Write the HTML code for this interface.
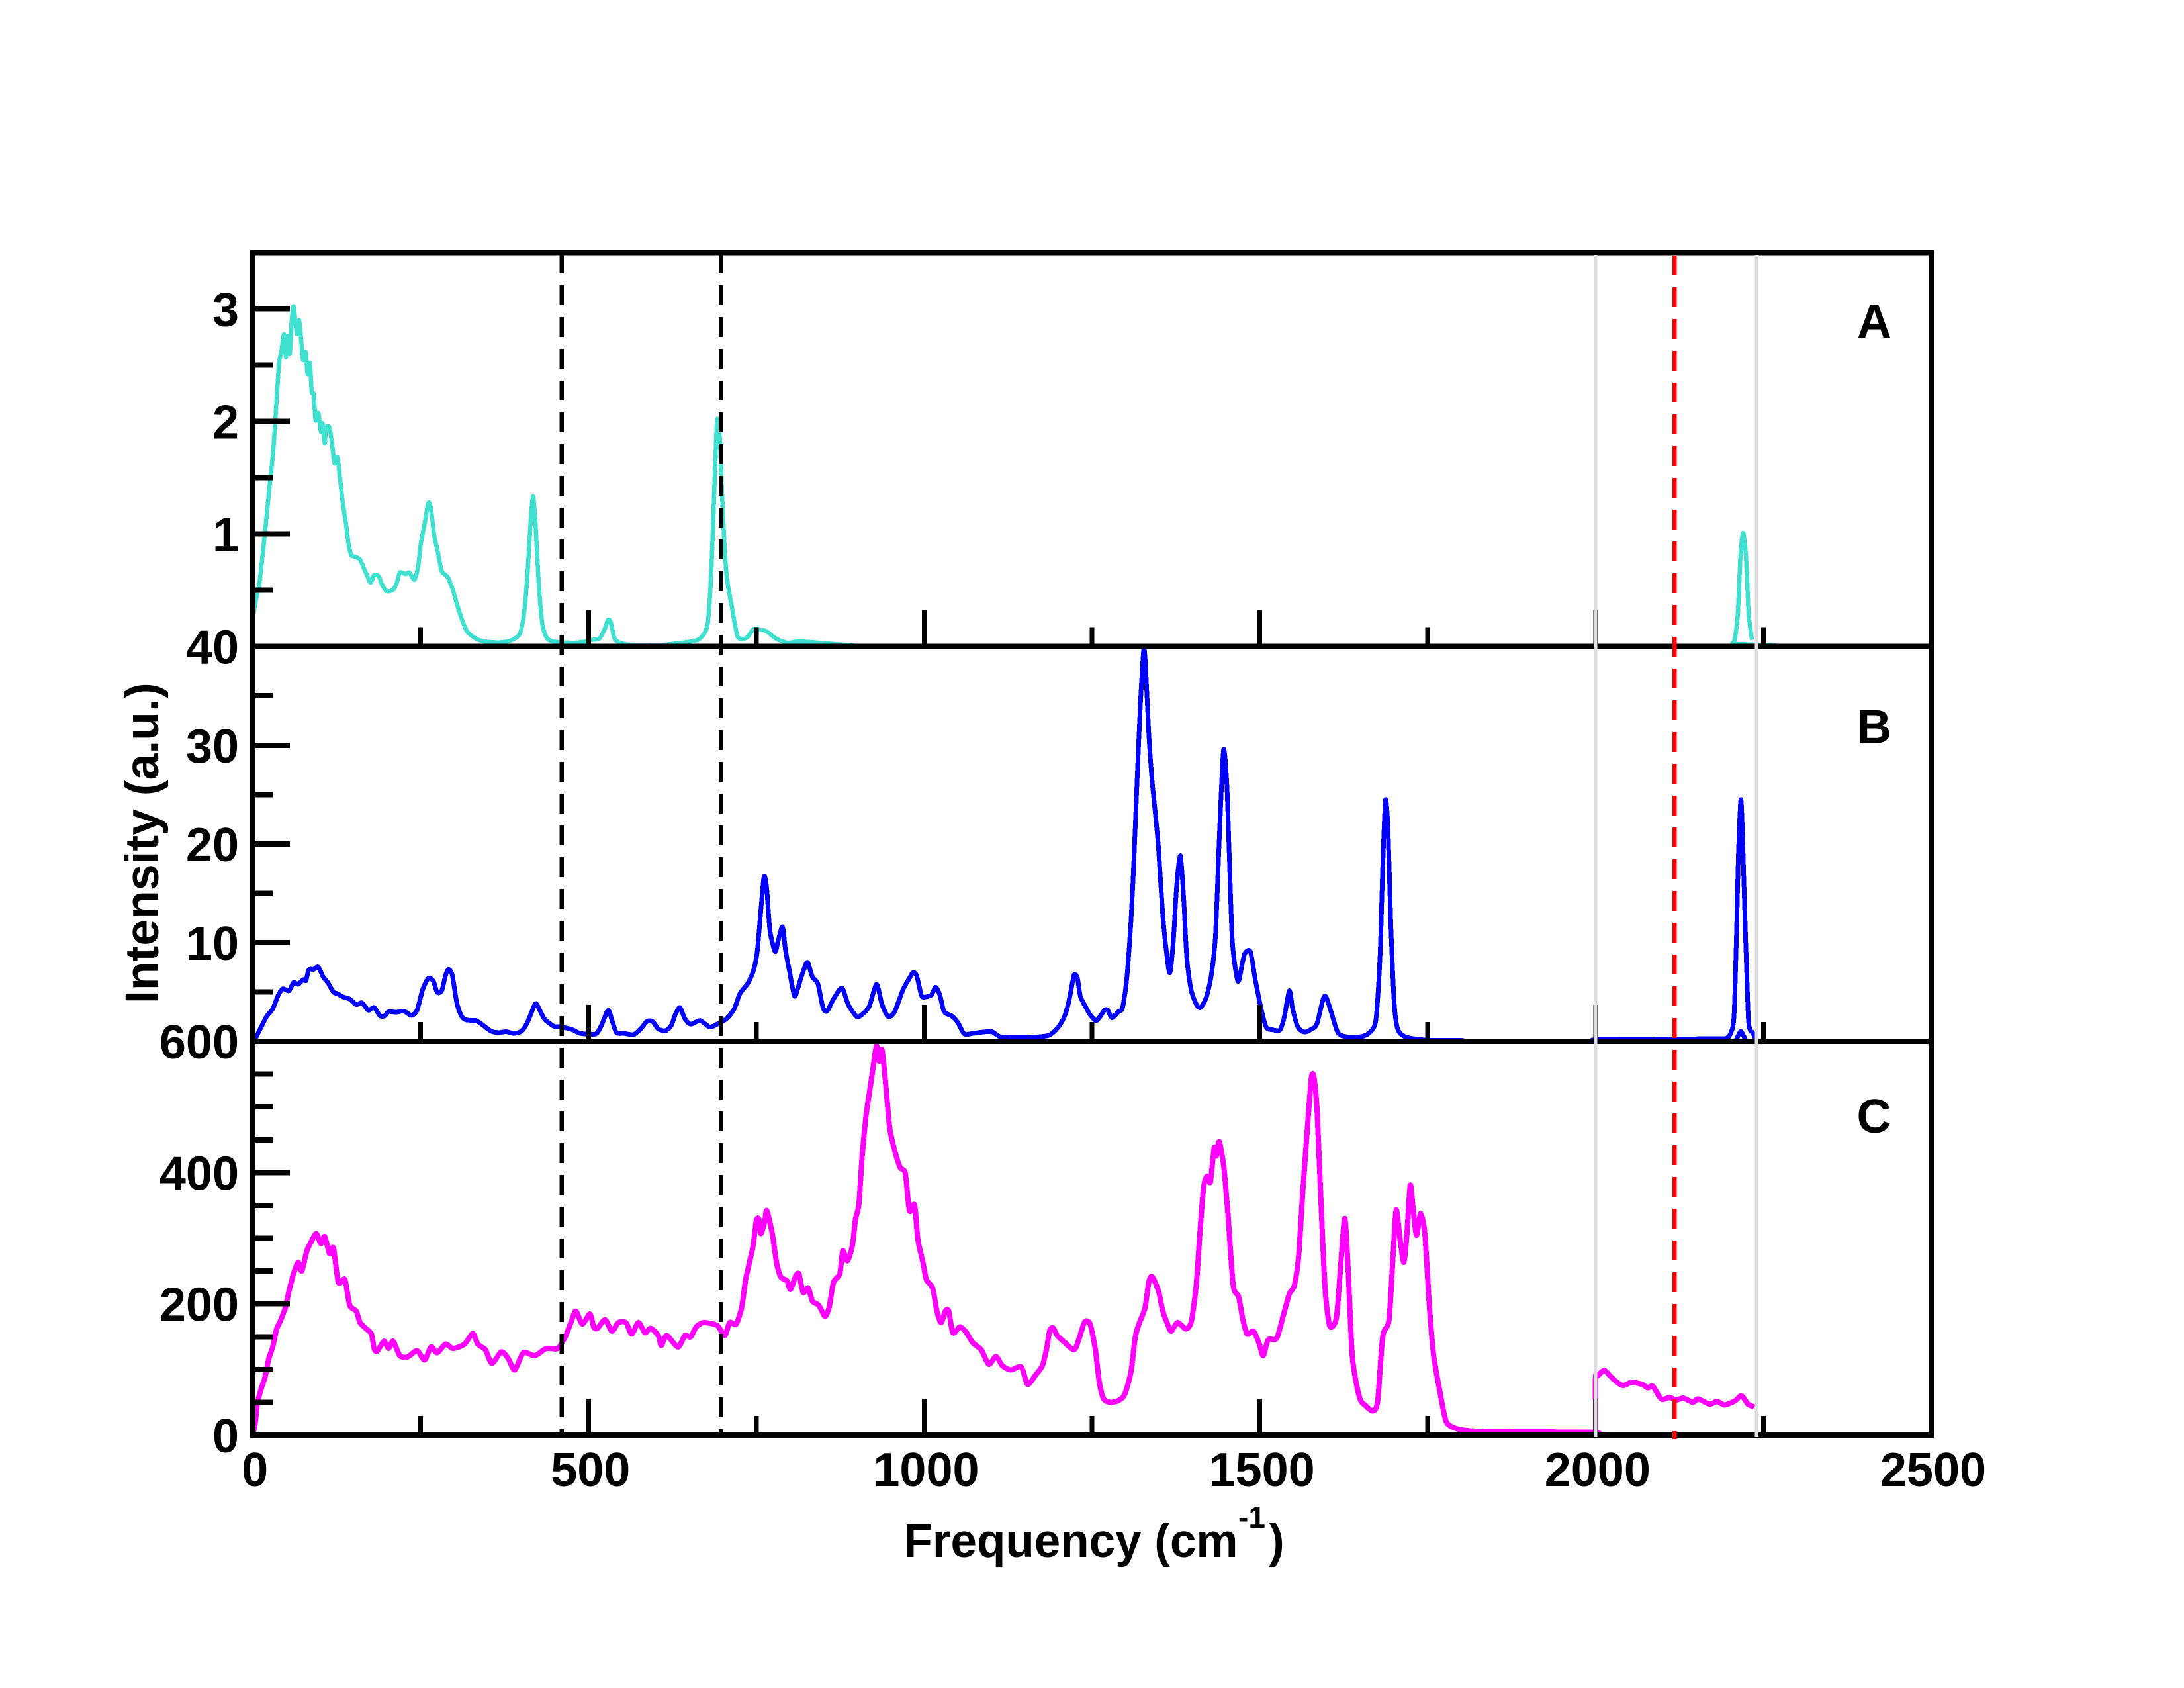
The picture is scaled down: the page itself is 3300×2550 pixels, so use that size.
<!DOCTYPE html>
<html lang="en">
<head>
<meta charset="utf-8">
<title>Intensity vs Frequency</title>
<style>
html,body{margin:0;padding:0;background:#fff;width:3300px;height:2550px;overflow:hidden}
svg{display:block}
text{font-family:"Liberation Sans",sans-serif;font-weight:bold;fill:#000}
</style>
</head>
<body>
<svg id="chart" xmlns="http://www.w3.org/2000/svg" width="3300" height="2550" viewBox="0 0 3300 2550">
<g id="curves" fill="none" stroke-linejoin="round" shape-rendering="crispEdges"></g>
<g id="axes" stroke="#000" fill="none" shape-rendering="crispEdges"></g>
<g id="labels" font-size="72"></g>
<g id="refs" fill="none" shape-rendering="crispEdges"></g>
<text x="2806" y="510" font-size="72">A</text>
<text x="2806" y="1122.7" font-size="72">B</text>
<text x="2805.5" y="1711" font-size="72">C</text>
<text x="1365.5" y="2352" font-size="71">Frequency (cm<tspan x="1871" y="2308" font-size="46">-1</tspan><tspan x="1917" y="2352">)</tspan></text>
<text transform="translate(239,1516) rotate(-90)" font-size="71.5">Intensity (a.u.)</text>
</svg>
<script>
const freqA = [0,4,9.6,15.3,21,26.6,30.6,35,39,42.5,46.4,49.2,52,55,57.7,60.6,63.4,66.2,69,71.9,74.7,78.7,81.5,84.9,87.7,90.6,93.4,97.4,101.3,103.6,107,109.2,114.3,118.3,121.7,126.2,129.6,134.1,138.7,142.6,146.6,152.3,159.6,165.3,171,175.5,181.1,187.9,191.9,199.2,208.8,214.5,219,227.5,233.2,240.5,246.2,250.1,255.8,261.5,265.4,270,275.6,281.3,289.8,297.1,303.9,312.4,319.8,332.2,343.5,366.2,383.1,397.3,403.5,408.6,413.1,417.1,421,425.6,431.2,438.6,451,479.4,496.3,504.8,516.1,523.5,529.1,533.1,538.8,547.3,564.2,609.5,649.1,666.1,677.4,683,687.6,691.6,695.5,700,705.7,714.2,721.5,728.3,736.8,745.3,753.8,765.1,779.3,796.3,814,840,870,895,900,2194,2203.6,2207.5,2212,2216,2219.8,2224,2228,2233];
const intensityA = [0.25,0.4,0.556,0.862,1.19,1.526,1.755,2.16,2.52,2.62,2.775,2.57,2.763,2.6,2.88,3.025,2.88,2.775,2.9,2.725,2.546,2.62,2.42,2.52,2.265,2.24,2.01,2.075,1.91,1.985,1.806,1.945,1.945,1.78,1.627,1.68,1.5,1.27,1.09,0.913,0.811,0.798,0.773,0.696,0.62,0.569,0.638,0.62,0.556,0.492,0.505,0.569,0.658,0.645,0.658,0.594,0.709,0.913,1.09,1.275,1.22,0.99,0.837,0.671,0.62,0.518,0.378,0.225,0.128,0.071,0.046,0.036,0.051,0.11,0.275,0.607,1.041,1.334,1.09,0.582,0.2,0.071,0.041,0.033,0.046,0.059,0.071,0.148,0.237,0.212,0.071,0.033,0.015,0.015,0.041,0.071,0.2,0.684,1.449,2.01,1.857,1.194,0.633,0.327,0.097,0.067,0.084,0.153,0.153,0.135,0.071,0.033,0.045,0.035,0.02,0.01,0,0,0.026,0.07,0.3,0.81,1.01,0.81,0.3,0.06,0.02];

const freqB = [0,4,12.5,21,29.5,38,44.7,53.8,60.6,67.4,74.7,79.2,83.2,90.6,97.4,104.7,111.5,120,125.7,134.1,144.3,154,162.4,172,180.6,189.6,196.4,202,213.4,224.7,236,244.5,253,261.5,268.8,274.5,281.3,287,291.5,297.1,303.9,310.7,318,332.2,343.5,354.8,366.2,377.5,388.8,400.1,408.6,419.9,423.9,434.1,448.2,459.5,476.5,487.8,510.5,519,529.1,534.8,541.6,552.9,567,578.4,586.9,595.4,603.8,615.2,623.6,629.3,636.1,643.5,652,666.1,680.2,691.6,705.7,717,725.5,736.8,745.3,751,755.5,761.2,765.1,769.7,773.6,778.1,782.1,788.9,793.4,798.9,805.1,808.3,817.7,825.9,833.4,841.6,849.2,855.4,864.9,877.4,886.9,899.5,907.6,918.3,929,937.2,946.6,956,968.6,978,983.1,988.7,995.6,1000,1010.7,1017,1023.3,1029.6,1040.9,1050.3,1059.8,1072.3,1084.9,1100.6,1113.2,1135.2,1160.4,1185.5,1198,1207.5,1213.8,1218.2,1223.2,1228.3,1232.7,1242.1,1248.4,1256.6,1264.1,1269.1,1273.5,1279.8,1289.2,1295.5,1301.8,1308.1,1312.5,1317.5,1321.9,1327,1330,1334.5,1339.5,1344,1349,1355.2,1361.6,1366,1371,1376,1381.7,1386.7,1391,1397.4,1405.6,1411.8,1420,1427.6,1433.8,1440,1445.8,1450.8,1454.6,1459,1467.2,1473.5,1477.9,1486,1493.6,1501,1509.3,1518.7,1530,1536.3,1543.9,1548.9,1556.5,1565.9,1575.3,1584.7,1594.2,1598.6,1606.7,1616.2,1628.7,1650.7,1663.3,1672.8,1679,1683.4,1687.2,1691,1695,1700,1705,1715,1735,1760,1800,1820,1999,2002,2184,2195,2201.7,2206.3,2210.3,2212.6,2216.6,2220,2223,2227.4,2230,2234,2238];
const intensityB = [0,0.32,1.45,2.57,3.28,4.69,5.31,5.12,5.96,5.77,6.25,6.16,7.23,7.29,7.52,6.53,5.96,4.98,4.83,4.5,4.27,3.71,3.9,3.14,3.42,2.57,2.57,3,2.94,3.06,2.63,3.14,5.26,6.39,6.1,4.98,5.12,6.67,7.29,6.67,3.85,2.57,2.15,2.1,1.59,1.02,0.88,0.97,0.8,1.02,1.87,3.71,3.62,2.29,1.53,1.45,1.16,0.8,0.74,1.59,3.14,2.15,0.88,0.8,0.68,1.3,2.01,2.01,1.25,1.08,1.65,2.72,3.42,2.29,1.73,2.1,1.45,1.73,2.29,3.28,4.83,5.82,7.09,8.93,12.3,16.6,15.7,11.5,10.06,9.07,10.06,11.6,9.21,7.23,4.98,4.64,6.67,8,6.53,5.82,3.42,3.06,4.27,5.4,3.71,2.49,2.72,3.56,5.77,3.71,2.49,3,5.26,6.39,6.95,6.67,4.69,4.47,4.69,5.48,4.69,3,2.57,1.87,0.74,0.8,0.91,0.97,0.46,0.37,0.4,0.6,1.3,2.29,3.56,4.98,6.72,6.39,4.55,3.28,2.57,2.1,2.72,3.2,3.14,2.38,3,3.42,6.39,12.3,18.5,27,34,39.7,37.7,31.2,26.4,23.3,19.6,12.9,8.6,6.95,10.06,15.7,18.8,14.3,8.6,5.26,3.71,3.42,4.41,6.67,10.6,21.35,29.5,26.1,18.5,10.06,6.1,7.8,8.93,9.07,6.1,3.56,1.45,1.16,1.16,2.43,5.12,3.28,1.45,0.94,1.16,1.73,4.27,4.5,2.86,0.88,0.46,0.46,0.88,2.15,8.6,18.5,24.45,21.35,12,4,1.3,0.5,0.2,0.1,0.1,0,0,0.16,0.27,0.3,0.87,2.6,11.6,18.5,24.5,18.5,11.6,2.6,1.2,0.87,0.3];
const freqBSmall = [2205,2209,2212,2216.5,2221,2224,2228];
const intensityBSmall = [0,0.1,0.5,1,0.5,0.1,0];

const freqC = [0,4,6.8,12.5,18.1,23.8,29.5,35.1,40.8,48.1,53.8,60.6,67.4,73,80.4,87.7,94.5,101.3,107,114.3,120,127.4,137,144.3,154,159.6,168.1,176.6,180.6,185.1,195.3,202,208.8,219,230.3,244.5,255.8,265.4,274.5,287,298.2,315.2,327.7,335,346.4,356,370.1,380.3,390,403,420,437,453.9,465.2,473.7,481,490.7,502,507.6,513.3,524.6,534.8,544.4,555.7,564.2,574.4,584,592.5,603.8,608.4,616.3,633.3,643.5,652,660.4,671.8,691.6,702.9,710.2,719.9,728.3,734,739.7,745.3,749.9,753.8,756.7,762.3,765.5,773.7,780,786.3,795.7,800.7,808.3,813.3,819.6,827.2,833.4,842.9,852.3,858.6,864.9,874.3,878.7,885.6,893.2,897.6,902.6,907.6,913.3,918.3,923.3,929,932.8,937.2,943.5,948.5,956,964.2,971.8,978,985.6,990.6,998.2,1003.2,1012.6,1018.9,1025.2,1031.5,1036.5,1042.8,1053.5,1063,1072.3,1084.9,1096.2,1106.9,1116.4,1128.9,1144.6,1154,1166.7,1176.1,1182.4,1186.8,1191.8,1198.1,1207.5,1223.2,1230.8,1239,1247.1,1254.7,1261,1267.2,1276.7,1289.2,1298.7,1308.1,1314.4,1320.7,1328.8,1334.5,1339.5,1349,1355.3,1361.6,1367.8,1377.3,1389.9,1398,1405.6,1410.6,1416.2,1421.3,1426.3,1432,1435.1,1439.5,1446.4,1452.7,1460.3,1468.4,1474.7,1481,1490.4,1498.6,1504.9,1512.4,1525,1534.4,1543.9,1551.4,1557.7,1564,1570.3,1576.6,1580.3,1584.7,1589.1,1594.2,1598,1604.4,1613.9,1620,1626.4,1631.5,1637.8,1648.4,1657.9,1668.6,1675.5,1683,1692.4,1698.7,1703.1,1709.4,1714.5,1718.9,1723.9,1728.3,1733.3,1739.6,1745.9,1752.2,1758.5,1767.9,1777.3,1790,1809,1846.5,1997,2000,2000,2003.7,2013,2022.5,2032,2041.4,2054,2069.7,2078,2085.4,2098,2110.5,2120,2130.7,2145,2152.7,2170,2181,2192.3,2208,2217.4,2227,2236.3];
const intensityC = [0,22.7,49,71,88.3,116.8,134,160.5,173.6,193.3,219.5,245.8,263,250,280.8,296,307,291.7,302.6,276.4,285,232.6,237,197.7,188.9,171.4,162.7,154,132,127.7,143,132,143,121,119,128.6,114.6,134.2,125.5,138.6,132,138.6,154.8,138.6,130,109.3,126.8,116.8,99.3,125.5,121,132,132,149.6,171.4,188.9,169.2,184.5,164.9,162.7,175.8,158.3,171.4,171.4,154,171.4,156.1,162.7,151.8,136.4,151.8,134.2,151.8,149.6,164.9,171.4,167,151.8,171.4,169.2,195.5,237,263,289.5,326.7,328.9,307,324.5,342,307,263,241,235,222,241.4,245.8,217.4,224,204.2,197.7,181,195.5,232.6,245.8,280.8,265.4,289.5,328.9,350.7,425,486,521,556,593.4,569.4,587,525.6,468.8,433.8,407.6,398.8,342,350.7,298,263,237,224,189,171.4,189,189,156,164.9,156,140.8,130,108,119.8,105.8,99.3,103.7,77.4,92.7,105.8,132,158.3,163.6,151.8,143,130,147.4,172.3,169.2,132,79.6,55.5,50,52.5,62,97,149.6,171.4,193.3,232.6,241.4,219.5,189,171.4,158.3,171.4,161.8,173.6,232.6,307,377,394.4,385.7,438,425,447,407.6,333,228,210.8,175.8,154,158.3,140.8,121,145.2,147.4,180.2,215,228,272,372.6,460,543,546.6,503.8,403,280.8,212,165.5,178.4,253,330,253,119,57.4,44.6,36.9,52.3,150,175.8,278.7,343,294,263.2,304.4,380.5,345.6,304.4,337.8,304.4,201.5,124,67.7,21.4,11,7,5.5,4.4,4.4,88,91,98.6,89.3,80.6,75.4,80.6,77,72,74.4,55,57.4,53.3,56.4,50,55,47.2,51.3,46,52.3,60,47.2,43];

const xTickValues = [0,250,500,750,1000,1250,1500,1750,2000,2250,2500];
const xTickLabels = ["0","500","1000","1500","2000","2500"];
const xLabelValues = [0,500,1000,1500,2000,2500];
const yTicksA = [0,0.5,1,1.5,2,2.5,3];
const yLabelsA = [1,2,3];
const yTicksB = [0,5,10,15,20,25,30,35,40];
const yLabelsB = [10,20,30,40];
const yTicksC = [0,50,100,150,200,250,300,350,400,450,500,550,600];
const yLabelsC = [0,200,400,600];
const dashedBlack = [460,697];
const dashedRed = [2117.5];
const solidGrey = [2000,2240];

const SVGNS = "http://www.w3.org/2000/svg";
const X0 = 382.1, X1 = 2918;
function xScale(v){ return X0 + v * (X1 - X0) / 2500; }
function panelScale(top, bottom, max){
  return function(v){ return bottom - v * (bottom - top) / max; };
}
const yA = panelScale(381.7, 976.7, 3.5);
const yB = panelScale(976.7, 1573, 40);
const yC = panelScale(1573, 2168, 600);

const curves = document.getElementById("curves");
const axes = document.getElementById("axes");
const labels = document.getElementById("labels");
const refs = document.getElementById("refs");

function smoothPath(px, py){
  let d = "M" + px[0].toFixed(1) + " " + py[0].toFixed(1);
  for (let i = 0; i < px.length - 1; i++) {
    const a = Math.max(i - 1, 0), b = Math.min(i + 2, px.length - 1);
    const c1x = px[i] + (px[i + 1] - px[a]) / 8;
    const c1y = py[i] + (py[i + 1] - py[a]) / 8;
    const c2x = px[i + 1] - (px[b] - px[i]) / 8;
    const c2y = py[i + 1] - (py[b] - py[i]) / 8;
    d += "C" + c1x.toFixed(1) + " " + c1y.toFixed(1) + " " + c2x.toFixed(1) + " " + c2y.toFixed(1) + " " + px[i + 1].toFixed(1) + " " + py[i + 1].toFixed(1);
  }
  return d;
}
function drawCurve(xs, ys, yf, color, width, name){
  const p = document.createElementNS(SVGNS, "path");
  p.setAttribute("d", smoothPath(xs.map(xScale), ys.map(yf)));
  p.setAttribute("stroke", color);
  p.setAttribute("stroke-width", width);
  
  
  curves.appendChild(p);
}
drawCurve(freqA, intensityA, yA, "#40e0d0", 6.5, "series-a-line");
drawCurve(freqB, intensityB, yB, "#0000ff", 7, "series-b-line");
drawCurve(freqBSmall, intensityBSmall, yB, "#0000ff", 7, "series-b-small-peak");
drawCurve(freqC, intensityC, yC, "#ff00ff", 8, "series-c-line");

function line(parent, x1, y1, x2, y2, width, color){
  const l = document.createElementNS(SVGNS, "line");
  l.setAttribute("x1", x1);
  l.setAttribute("y1", y1);
  l.setAttribute("x2", x2);
  l.setAttribute("y2", y2);
  l.setAttribute("stroke-width", width);
  l.setAttribute("stroke", color);
  parent.appendChild(l);
  return l;
}

const panels = [
  {id:"a", yf:yA, base:976.7, ticks:yTicksA, labs:yLabelsA, major:1},
  {id:"b", yf:yB, base:1573, ticks:yTicksB, labs:yLabelsB, major:10},
  {id:"c", yf:yC, base:2168, ticks:yTicksC, labs:yLabelsC, major:200}
];
panels.forEach(function(pn){
  xTickValues.forEach(function(v){
    if (v === 0 || v === 2500) return;
    const isMajor = v % 500 === 0;
    const t = line(axes, xScale(v), pn.base, xScale(v), pn.base - (isMajor ? 55 : 29), 7, "#000");
    
    
  });
  pn.ticks.forEach(function(v){
    const isMajor = v % pn.major === 0;
    const t = line(axes, X0, pn.yf(v), X0 + (isMajor ? 56 : 30), pn.yf(v), 8, "#000");
    
    
  });
  pn.labs.forEach(function(v){
    const tx = document.createElementNS(SVGNS, "text");
    tx.setAttribute("x", 361);
    tx.setAttribute("y", pn.yf(v) + 26);
    tx.setAttribute("text-anchor", "end");
    
    
    tx.textContent = String(v);
    labels.appendChild(tx);
  });
});
xLabelValues.forEach(function(v, i){
  const tx = document.createElementNS(SVGNS, "text");
  tx.setAttribute("x", xScale(v) + 3);
  tx.setAttribute("y", 2245);
  tx.setAttribute("text-anchor", "middle");
  
  
  tx.textContent = xTickLabels[i];
  labels.appendChild(tx);
});

const frame = document.createElementNS(SVGNS, "rect");
frame.setAttribute("x", X0);
frame.setAttribute("y", 381.7);
frame.setAttribute("width", X1 - X0);
frame.setAttribute("height", 2168 - 381.7);
frame.setAttribute("stroke-width", 8);


axes.appendChild(frame);
const divAB = line(axes, X0, 976.7, X1, 976.7, 8, "#000");


const divBC = line(axes, X0, 1573, X1, 1573, 8, "#000");



dashedBlack.forEach(function(v){
  const d = line(refs, xScale(v), 383, xScale(v), 2172, 6.5, "#000");
  d.setAttribute("stroke-dasharray", "30 18");
  
  
});
solidGrey.forEach(function(v){
  const g = line(refs, xScale(v), 385, xScale(v), 2171, 5.5, "#dcdcdc");
  
  
});
dashedRed.forEach(function(v){
  const d = line(refs, xScale(v), 386, xScale(v), 2174, 6.5, "#ff0000");
  d.setAttribute("stroke-dasharray", "30 18");
  
  
});
</script>
</body>
</html>
